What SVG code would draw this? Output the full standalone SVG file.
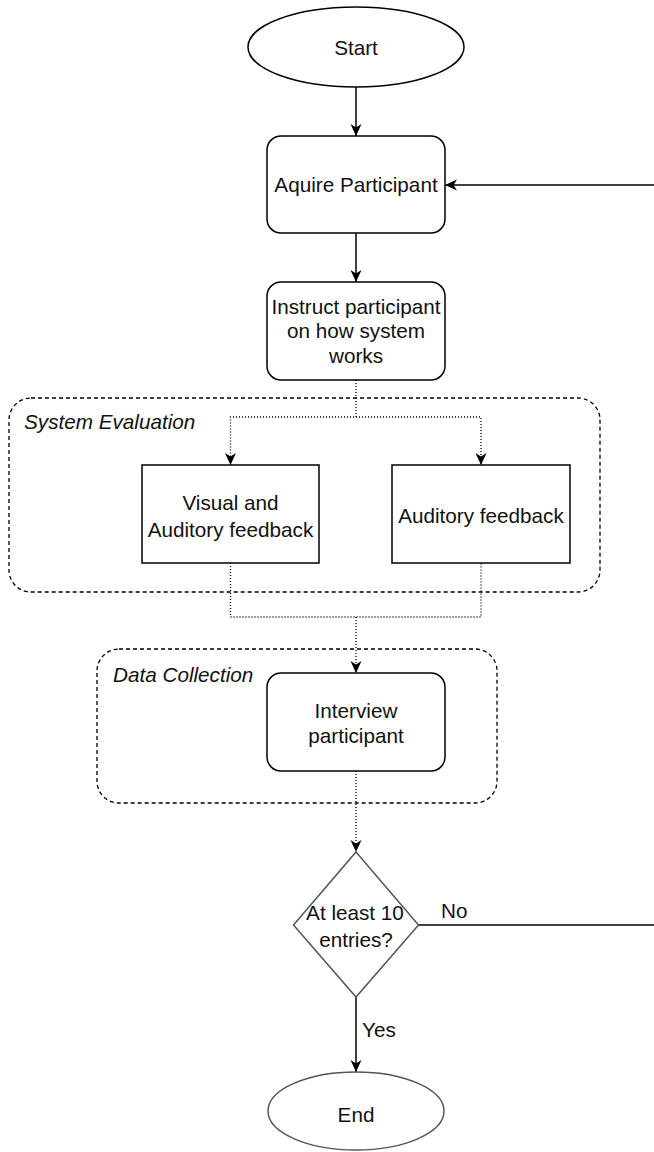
<svg xmlns="http://www.w3.org/2000/svg" width="654" height="1152" viewBox="0 0 654 1152">
  <defs>
    <marker id="arrow" viewBox="0 0 12 12" refX="12" refY="6" markerWidth="12" markerHeight="12" markerUnits="userSpaceOnUse" orient="auto">
      <path d="M0,0.5 L12,6 L0,11.5 L3.5,6 Z" fill="#000"/>
    </marker>
    <style>
      .shape { fill: #fff; stroke: #000; stroke-width: 1.5; }
      .grey { fill: #fff; stroke: #555; stroke-width: 1.5; }
      .group { fill: none; stroke: #000; stroke-width: 1.3; stroke-dasharray: 4 3; }
      .edge { fill: none; stroke: #000; stroke-width: 1.5; }
      .dot { fill: none; stroke: #000; stroke-width: 1.3; stroke-dasharray: 1 2; }
      text { font-family: "Liberation Sans", Arial, sans-serif; font-size: 20.7px; fill: #111; text-anchor: middle; }
      .title { font-style: italic; text-anchor: start; }
      .lbl { text-anchor: start; }
    </style>
  </defs>

  <!-- group containers -->
  <g id="system-evaluation">
    <rect class="group" x="9" y="398" width="591" height="194" rx="22" ry="22"/>
    <text class="title" x="24" y="429">System Evaluation</text>
  </g>
  <g id="data-collection">
    <rect class="group" x="97" y="649" width="400" height="154" rx="22" ry="22"/>
    <text class="title" x="113" y="682">Data Collection</text>
  </g>

  <!-- connectors -->
  <g id="connectors">
    <line class="edge" x1="356" y1="87" x2="356" y2="136" marker-end="url(#arrow)"/>
    <line class="edge" x1="654" y1="185" x2="445" y2="185" marker-end="url(#arrow)"/>
    <line class="edge" x1="356" y1="233" x2="356" y2="282" marker-end="url(#arrow)"/>
    <path class="dot" d="M356,380 V417 H230.5 V465" marker-end="url(#arrow)"/>
    <path class="dot" d="M356,417 H481 V465" marker-end="url(#arrow)"/>
    <path class="dot" d="M230.5,563 V617 H481 V563"/>
    <path class="dot" d="M356,617 V673" marker-end="url(#arrow)"/>
    <path class="dot" d="M356,771 V852" marker-end="url(#arrow)"/>
    <line class="edge" x1="418" y1="925" x2="654" y2="925"/>
    <text class="lbl" x="441" y="918">No</text>
    <line class="edge" x1="356" y1="997" x2="356" y2="1072" marker-end="url(#arrow)"/>
    <text class="lbl" x="362" y="1037">Yes</text>
  </g>

  <!-- nodes -->
  <g id="start">
    <ellipse class="shape" cx="356" cy="47" rx="108" ry="40"/>
    <text x="356" y="55">Start</text>
  </g>
  <g id="acquire">
    <rect class="shape" x="267" y="136" width="178" height="97" rx="14" ry="14"/>
    <text x="356" y="192">Aquire Participant</text>
  </g>
  <g id="instruct">
    <rect class="shape" x="267" y="282" width="178" height="98" rx="14" ry="14"/>
    <text x="356" y="314">Instruct participant</text>
    <text x="356" y="338">on how system</text>
    <text x="356" y="363">works</text>
  </g>
  <g id="visual-auditory">
    <rect class="shape" x="142" y="465" width="177" height="98"/>
    <text x="230.5" y="510">Visual and</text>
    <text x="230.5" y="537">Auditory feedback</text>
  </g>
  <g id="auditory">
    <rect class="shape" x="392" y="465" width="178" height="98"/>
    <text x="481" y="523">Auditory feedback</text>
  </g>
  <g id="interview">
    <rect class="shape" x="267" y="673" width="178" height="98" rx="14" ry="14"/>
    <text x="356" y="718">Interview</text>
    <text x="356" y="743">participant</text>
  </g>
  <g id="decision">
    <polygon class="grey" points="356,852 418.5,925 356,997 293.5,925"/>
    <text x="355" y="920">At least 10</text>
    <text x="356" y="947">entries?</text>
  </g>
  <g id="end">
    <ellipse class="grey" cx="356" cy="1111" rx="88" ry="39"/>
    <text x="356" y="1122">End</text>
  </g>
</svg>
